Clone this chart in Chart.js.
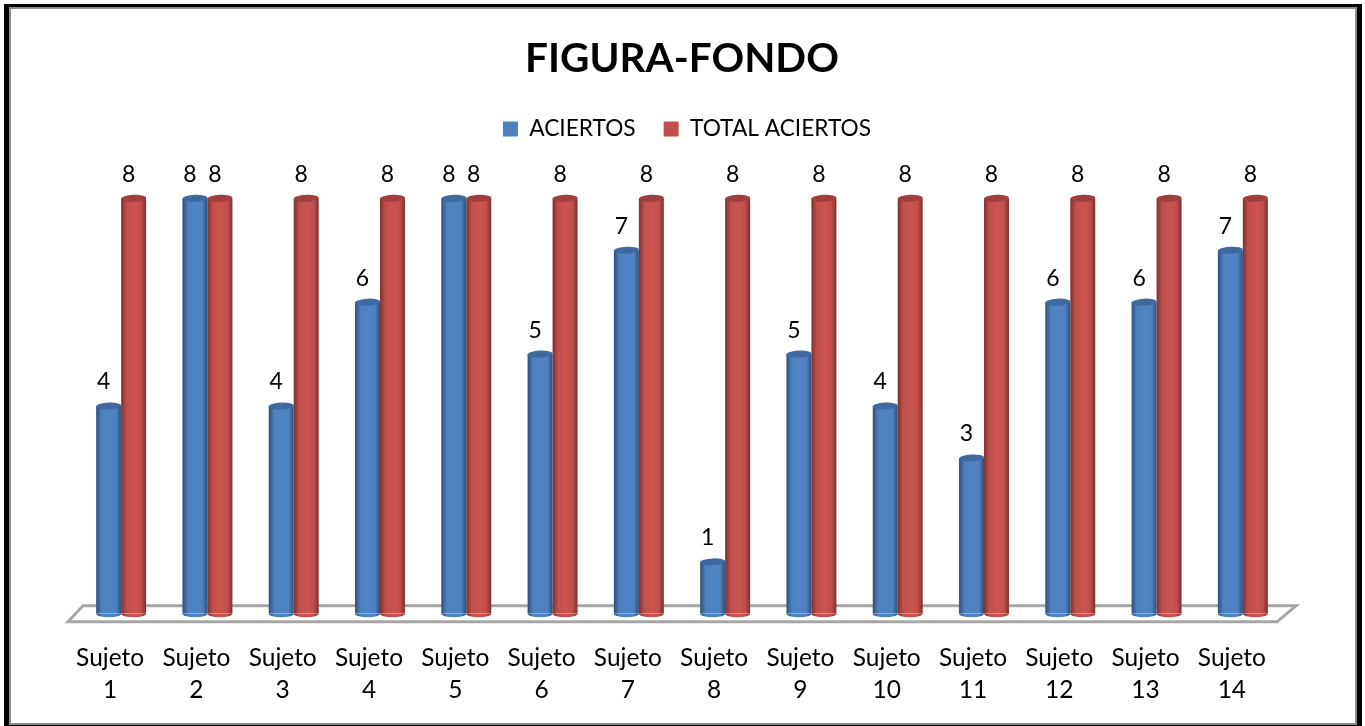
<!DOCTYPE html>
<html>
<head>
<meta charset="utf-8">
<style>
html,body{margin:0;padding:0;background:#fff;}
#wrap{position:relative;width:1365px;height:726px;}
canvas{display:block;}
</style>
<script src="https://cdn.jsdelivr.net/npm/chart.js@4/dist/chart.umd.min.js"></script>
</head>
<body>
<div id="wrap"><canvas id="c" width="1365" height="726"></canvas></div>
<script>
const categories = [["Sujeto","1"],["Sujeto","2"],["Sujeto","3"],["Sujeto","4"],["Sujeto","5"],["Sujeto","6"],["Sujeto","7"],["Sujeto","8"],["Sujeto","9"],["Sujeto","10"],["Sujeto","11"],["Sujeto","12"],["Sujeto","13"],["Sujeto","14"]];
const aciertos = [4,8,4,6,8,5,7,1,5,4,3,6,6,7];
const totalAciertos = [8,8,8,8,8,8,8,8,8,8,8,8,8,8];
const FONT = 'Lato, "Open Sans", sans-serif';
const RY = 3.5;
const LEGEND_GAP = 48;

const palette = [
  {flat:'#4f81bd', dark:'#2c4f7c', mid:'#4f85c8', cap:'#3f6a9f'},
  {flat:'#c0504d', dark:'#7d302e', mid:'#cd5451', cap:'#a03f3d'}
];

function cylinderFill(dsIndex){
  return function(ctx){
    const p = palette[dsIndex];
    const chart = ctx.chart;
    const x = chart.scales.x;
    if(!x || !chart.chartArea || ctx.dataIndex === undefined) return p.flat;
    const c = x.getPixelForValue(ctx.dataIndex);
    const w = x.width / categories.length * 0.579 / 2;
    const l = dsIndex === 0 ? c - w : c;
    const g = chart.ctx.createLinearGradient(l, 0, l + w, 0);
    g.addColorStop(0, p.dark);
    g.addColorStop(0.22, p.flat);
    g.addColorStop(0.55, p.mid);
    g.addColorStop(0.8, p.flat);
    g.addColorStop(1, p.dark);
    return g;
  };
}

const legendSpacer = {
  id:'legendSpacer',
  beforeLayout(chart){
    const l = chart.legend;
    if(l && !l.__wrapped){
      const fit = l.fit;
      l.fit = function(){ fit.call(this); this.height += LEGEND_GAP; };
      l.__wrapped = true;
    }
  },
  afterLayout(chart){
    if(chart.legend) chart.legend.left += 10;
  }
};

const floorPlugin = {
  id:'floor',
  beforeDatasetsDraw(chart){
    const {ctx} = chart, a = chart.chartArea;
    ctx.save();
    ctx.strokeStyle = '#a6a6a6';
    ctx.lineWidth = 3;
    ctx.lineJoin = 'miter';
    ctx.beginPath();
    ctx.moveTo(a.left + 5, a.bottom - 8);
    ctx.lineTo(a.right + 10, a.bottom - 8);
    ctx.lineTo(a.right - 9, a.bottom + 8);
    ctx.lineTo(a.left - 10, a.bottom + 8);
    ctx.closePath();
    ctx.stroke();
    ctx.restore();
  }
};

const cylinderPlugin = {
  id:'cylinder',
  afterDatasetsDraw(chart){
    const {ctx} = chart;
    chart.data.datasets.forEach((ds, di) => {
      const meta = chart.getDatasetMeta(di);
      const p = palette[di];
      meta.data.forEach((bar, i) => {
        const w = bar.width, cx = bar.x;
        const fill = bar.options.backgroundColor;
        ctx.save();
        ctx.beginPath();
        ctx.ellipse(cx, bar.base, w/2, RY, 0, 0, Math.PI);
        ctx.fillStyle = fill;
        ctx.fill();
        ctx.beginPath();
        ctx.ellipse(cx, bar.y, w/2, RY, -0.05, 0, Math.PI*2);
        ctx.fillStyle = p.cap;
        ctx.fill();
        ctx.fillStyle = '#000';
        ctx.font = '23px ' + FONT;
        ctx.textAlign = 'center';
        ctx.textBaseline = 'middle';
        ctx.fillText(String(ds.data[i]), cx - 5, bar.y - 24);
        ctx.restore();
      });
    });
  }
};

const framePlugin = {
  id:'frame',
  afterDraw(chart){
    const {ctx} = chart;
    ctx.save();
    ctx.fillStyle = '#8c8c8c';
    ctx.fillRect(9, 7, 1348, 2);
    ctx.fillRect(9, 7, 2, 717);
    ctx.fillRect(1355, 7, 2, 718);
    ctx.fillRect(9, 723, 1348, 2);
    ctx.fillStyle = '#000';
    ctx.fillRect(4, 4, 1358, 3);
    ctx.fillRect(4, 4, 5, 722);
    ctx.fillRect(1357, 4, 5, 722);
    ctx.fillRect(4, 725, 1358, 1);
    ctx.restore();
  }
};

new Chart(document.getElementById('c'), {
  type:'bar',
  data:{
    labels:categories,
    datasets:[
      {label:'ACIERTOS', data:aciertos, backgroundColor:cylinderFill(0), borderWidth:0},
      {label:'TOTAL ACIERTOS', data:totalAciertos, backgroundColor:cylinderFill(1), borderWidth:0}
    ]
  },
  plugins:[legendSpacer, floorPlugin, cylinderPlugin, framePlugin],
  options:{
    responsive:false,
    animation:false,
    layout:{padding:{left:78,right:79,top:35,bottom:0}},
    datasets:{bar:{categoryPercentage:0.579,barPercentage:1}},
    plugins:{
      title:{display:true,text:'FIGURA-FONDO',color:'#000',font:{family:FONT,size:40.5,weight:'bold'},padding:{top:0,bottom:6}},
      legend:{display:true,position:'top',
        labels:{color:'#000',font:{family:FONT,size:22.7},boxWidth:15,boxHeight:15,padding:28,
        generateLabels(chart){
          return chart.data.datasets.map((d,i)=>({text:d.label,fillStyle:palette[i].flat,strokeStyle:palette[i].flat,lineWidth:0,datasetIndex:i,fontColor:'#000'}));
        }}},
      tooltip:{enabled:false}
    },
    scales:{
      x:{grid:{display:false},border:{display:false},
        ticks:{color:'#000',font:{family:FONT,size:24.5,lineHeight:1.31},labelOffset:-11,padding:20,maxRotation:0,minRotation:0,autoSkip:false}},
      y:{display:false,min:0,max:8}
    }
  }
});
</script>
</body>
</html>
